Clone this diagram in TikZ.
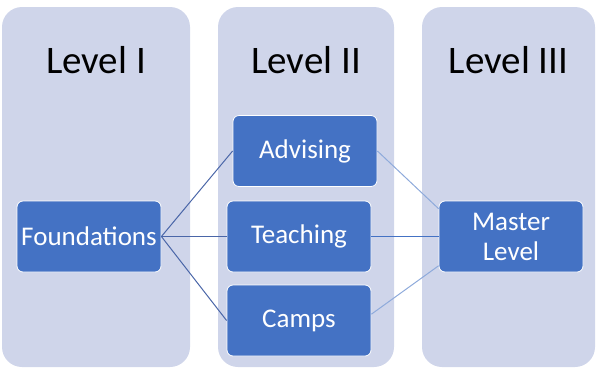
\documentclass[tikz,border=0pt]{standalone}
\usepackage{fontspec}
\setmainfont{Carlito}

\definecolor{colbg}{HTML}{CFD5EA}
\definecolor{boxblue}{HTML}{4472C4}
\definecolor{darkline}{HTML}{4A66A8}
\definecolor{lightline}{HTML}{8EAADB}

\begin{document}
\begin{tikzpicture}[x=1pt, y=-1pt,
    column/.style={fill=colbg, rounded corners=20pt},
    title/.style={anchor=base, font=\fontsize{39}{44}\selectfont},
    stage/.style={rectangle, rounded corners=6pt, fill=boxblue, draw=white, line width=0.8pt,
      text=white, minimum width=144pt, minimum height=71pt, inner sep=0pt, align=center,
      font=\fontsize{27}{30}\selectfont}]
    \useasboundingbox (0,0) rectangle (597,368);
    \fill[column] (2,7) rectangle (190,367);
    \fill[column] (218,7) rectangle (394,367);
    \fill[column] (422,7) rectangle (595,367);
    \node[title] (lvlone) at (96,73) {Level I};
    \node[title] (lvltwo) at (306,73) {Level II};
    \node[title] (lvlthree) at (508.5,73) {Level III};
    \node[stage] (foundations) at (89,236.5) {Foundations};
    \node[stage] (advising) at (305,151) {Advising};
    \node[stage] (teaching) at (299,236.5) {Teaching};
    \node[stage] (camps) at (299,320.5) {Camps};
    \node[stage] (master) at (511,236.5) {Master\\Level};
    \draw[darkline, line width=1pt] (foundations.east) -- (advising.west);
    \draw[darkline, line width=1.5pt] (foundations.east) -- (teaching.west);
    \draw[darkline, line width=1pt] (foundations.east) -- (camps.west);
    \draw[lightline, line width=1pt] (advising.east) -- (master.159);
    \draw[boxblue, line width=1.5pt] (teaching.east) -- (master.west);
    \draw[lightline, line width=1pt] (camps.5) -- (master.202);
  \end{tikzpicture}
\end{document}
